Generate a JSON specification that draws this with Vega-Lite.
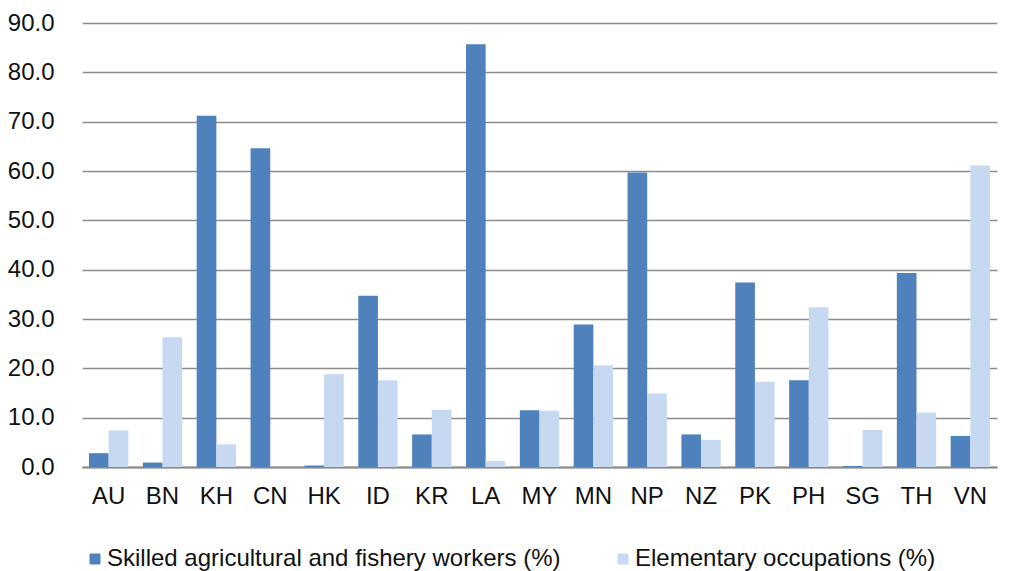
{
  "$schema": "https://vega.github.io/schema/vega-lite/v6.json",
  "width": 915,
  "height": 444,
  "autosize": "none",
  "padding": {"left": 82, "top": 23, "right": 14, "bottom": 104},
  "background": "white",
  "config": {
    "font": "Liberation Sans",
    "view": {"stroke": null}
  },
  "data": {
    "values": [
      {"country": "AU", "series": "Skilled agricultural and fishery workers (%)", "value": 2.8},
      {"country": "AU", "series": "Elementary occupations (%)", "value": 7.4},
      {"country": "BN", "series": "Skilled agricultural and fishery workers (%)", "value": 0.9},
      {"country": "BN", "series": "Elementary occupations (%)", "value": 26.3},
      {"country": "KH", "series": "Skilled agricultural and fishery workers (%)", "value": 71.2},
      {"country": "KH", "series": "Elementary occupations (%)", "value": 4.6},
      {"country": "CN", "series": "Skilled agricultural and fishery workers (%)", "value": 64.6},
      {"country": "CN", "series": "Elementary occupations (%)", "value": 0},
      {"country": "HK", "series": "Skilled agricultural and fishery workers (%)", "value": 0.3},
      {"country": "HK", "series": "Elementary occupations (%)", "value": 18.8},
      {"country": "ID", "series": "Skilled agricultural and fishery workers (%)", "value": 34.7},
      {"country": "ID", "series": "Elementary occupations (%)", "value": 17.6},
      {"country": "KR", "series": "Skilled agricultural and fishery workers (%)", "value": 6.6},
      {"country": "KR", "series": "Elementary occupations (%)", "value": 11.6},
      {"country": "LA", "series": "Skilled agricultural and fishery workers (%)", "value": 85.7},
      {"country": "LA", "series": "Elementary occupations (%)", "value": 1.2},
      {"country": "MY", "series": "Skilled agricultural and fishery workers (%)", "value": 11.5},
      {"country": "MY", "series": "Elementary occupations (%)", "value": 11.4},
      {"country": "MN", "series": "Skilled agricultural and fishery workers (%)", "value": 28.9},
      {"country": "MN", "series": "Elementary occupations (%)", "value": 20.6},
      {"country": "NP", "series": "Skilled agricultural and fishery workers (%)", "value": 59.7},
      {"country": "NP", "series": "Elementary occupations (%)", "value": 14.9},
      {"country": "NZ", "series": "Skilled agricultural and fishery workers (%)", "value": 6.6},
      {"country": "NZ", "series": "Elementary occupations (%)", "value": 5.5},
      {"country": "PK", "series": "Skilled agricultural and fishery workers (%)", "value": 37.4},
      {"country": "PK", "series": "Elementary occupations (%)", "value": 17.3},
      {"country": "PH", "series": "Skilled agricultural and fishery workers (%)", "value": 17.6},
      {"country": "PH", "series": "Elementary occupations (%)", "value": 32.4},
      {"country": "SG", "series": "Skilled agricultural and fishery workers (%)", "value": 0.2},
      {"country": "SG", "series": "Elementary occupations (%)", "value": 7.5},
      {"country": "TH", "series": "Skilled agricultural and fishery workers (%)", "value": 39.3},
      {"country": "TH", "series": "Elementary occupations (%)", "value": 11.0},
      {"country": "VN", "series": "Skilled agricultural and fishery workers (%)", "value": 6.3},
      {"country": "VN", "series": "Elementary occupations (%)", "value": 61.1}
    ]
  },
  "mark": {"type": "bar"},
  "encoding": {
    "x": {
      "field": "country",
      "type": "nominal",
      "sort": ["AU", "BN", "KH", "CN", "HK", "ID", "KR", "LA", "MY", "MN", "NP", "NZ", "PK", "PH", "SG", "TH", "VN"],
      "scale": {"paddingInner": 0.27, "paddingOuter": 0.13},
      "title": null,
      "axis": {
        "labelAngle": 0,
        "labelFontSize": 24,
        "labelColor": "#111111",
        "labelPadding": 17,
        "ticks": false,
        "domainColor": "#8a8a8a",
        "domainWidth": 2
      }
    },
    "xOffset": {
      "field": "series",
      "type": "nominal",
      "sort": ["Skilled agricultural and fishery workers (%)", "Elementary occupations (%)"]
    },
    "y": {
      "field": "value",
      "type": "quantitative",
      "scale": {"domain": [0, 90], "nice": false},
      "title": null,
      "axis": {
        "values": [0, 10, 20, 30, 40, 50, 60, 70, 80, 90],
        "format": ".1f",
        "labelFontSize": 24,
        "labelColor": "#111111",
        "labelPadding": 28,
        "ticks": false,
        "domain": false,
        "grid": true,
        "gridColor": "#8c8c8c",
        "gridWidth": 1.5
      }
    },
    "color": {
      "field": "series",
      "type": "nominal",
      "sort": ["Skilled agricultural and fishery workers (%)", "Elementary occupations (%)"],
      "scale": {
        "domain": ["Skilled agricultural and fishery workers (%)", "Elementary occupations (%)"],
        "range": ["#4F81BD", "#C6D9F1"]
      },
      "legend": {
        "title": null,
        "orient": "none",
        "direction": "horizontal",
        "columns": 2,
        "legendX": 1,
        "legendY": 524,
        "padding": 0,
        "columnPadding": 50,
        "symbolType": "square",
        "symbolSize": 120,
        "symbolStrokeWidth": 0,
        "labelFontSize": 24,
        "labelColor": "#111111",
        "labelLimit": 700,
        "labelOffset": 0
      }
    }
  }
}
